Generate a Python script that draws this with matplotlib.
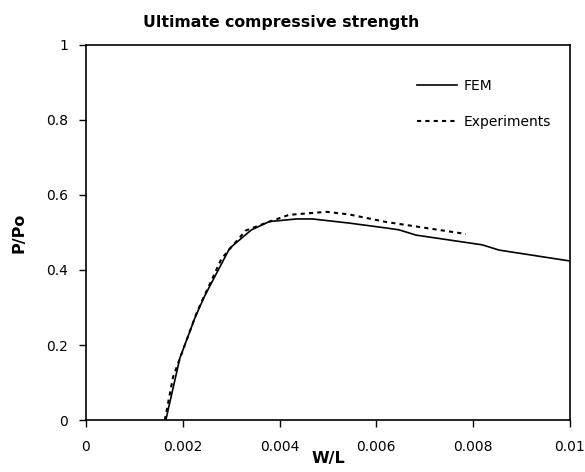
import matplotlib
matplotlib.use("Agg")
import matplotlib.pyplot as plt

# FEM load-displacement curve
fem_wl = [0.00165, 0.00194, 0.00225, 0.00245, 0.00297, 0.00342, 0.00379,
          0.00435, 0.00468, 0.00544, 0.0062, 0.00647, 0.00682, 0.00819,
          0.00854, 0.0100]
fem_p = [0.0, 0.165, 0.272, 0.33, 0.458, 0.507, 0.529,
         0.536, 0.536, 0.525, 0.512, 0.507, 0.493, 0.467,
         0.453, 0.424]

# test data
exp_wl = [0.00163, 0.0018, 0.0023, 0.0028, 0.0033, 0.00375, 0.0042,
          0.00497, 0.00544, 0.0062, 0.00785]
exp_p = [0.0, 0.115, 0.29, 0.43, 0.505, 0.527, 0.547,
         0.555, 0.548, 0.528, 0.496]

xticks = [0, 0.002, 0.004, 0.006, 0.008, 0.01]
xticklabels = ["0", "0.002", "0.004", "0.006", "0.008", "0.01"]
yticks = [0, 0.2, 0.4, 0.6, 0.8, 1.0]
yticklabels = ["0", "0.2", "0.4", "0.6", "0.8", "1"]

fig = plt.figure(figsize=(5.85, 4.72), dpi=100)
ax = fig.add_axes([0.147, 0.110, 0.827, 0.795])

ax.plot(fem_wl, fem_p, color="black", lw=1.2, label="FEM")
ax.plot(exp_wl, exp_p, color="black", lw=1.5, linestyle=(0, (2, 2)),
        label="Experiments")

ax.set_xlim(0, 0.01)
ax.set_ylim(0, 1)
ax.set_xticks(xticks)
ax.set_xticklabels(xticklabels)
ax.set_yticks(yticks)
ax.set_yticklabels(yticklabels)
ax.tick_params(direction="out", length=5, width=1, labelsize=10, pad=8)
ax.tick_params(axis="x", pad=9)

for s in ax.spines.values():
    s.set_linewidth(1.2)
    s.set_color("black")

ax.set_title("Ultimate compressive strength", fontsize=11.3, fontweight="bold",
             pad=13, x=0.403)
ax.set_xlabel("W/L", fontsize=11.5, fontweight="bold", labelpad=-2)
ax.set_ylabel("P/Po", fontsize=11.5, fontweight="bold", labelpad=14)

ax.legend(loc="upper left", frameon=False, fontsize=10, handlelength=2.9,
          handletextpad=0.45, labelspacing=1.6, borderpad=0,
          borderaxespad=0, bbox_to_anchor=(0.684, 0.91))

fig.savefig("out.png", dpi=100)
